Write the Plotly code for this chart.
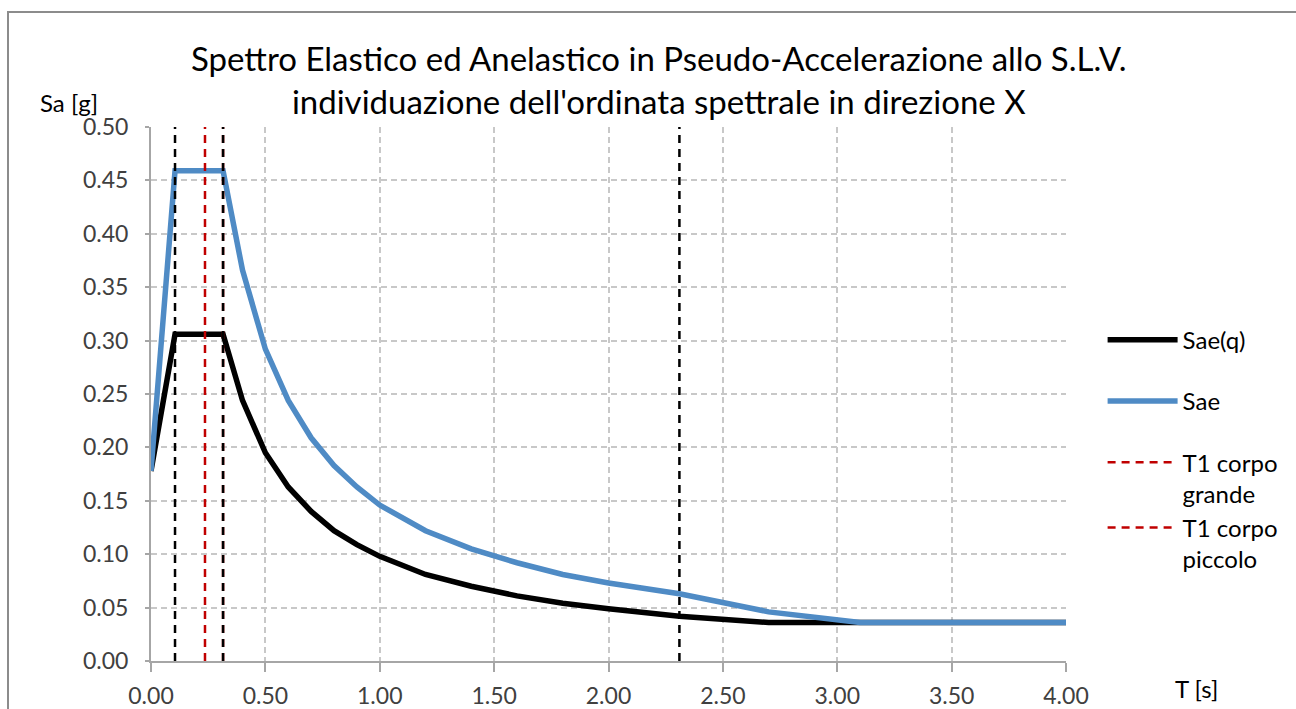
import plotly.graph_objects as go

# Period samples [s] and spectral ordinates [g]
T = [0.0, 0.105, 0.315, 0.4, 0.5, 0.6, 0.7, 0.8, 0.9, 1.0, 1.2, 1.4, 1.6, 1.8,
     2.0, 2.2, 2.31, 2.7, 3.1, 3.5, 4.0]
sae = [0.178, 0.459, 0.459, 0.366, 0.292, 0.244, 0.209, 0.183, 0.163, 0.146,
       0.122, 0.105, 0.092, 0.081, 0.073, 0.067, 0.063, 0.046, 0.036, 0.036, 0.036]
sae_q = [0.178, 0.306, 0.306, 0.244, 0.195, 0.163, 0.140, 0.122, 0.109, 0.098,
         0.081, 0.070, 0.061, 0.054, 0.049, 0.044, 0.042, 0.036, 0.036, 0.036, 0.036]

# Corner periods TB, TC, TD
corner_periods = [0.105, 0.315, 2.31]
# Fundamental periods of the two building bodies
t1_grande = 0.236
t1_piccolo = 0.315

y_top = 0.5
FONT = "Lato"
DASH = "8px,6px"

fig = go.Figure()

fig.add_trace(go.Scatter(x=T, y=sae_q, mode="lines", name="Sae(q)", legendgroup="a",
                         line=dict(color="black", width=5.5)))
fig.add_trace(go.Scatter(x=T, y=sae, mode="lines", name="Sae", legendgroup="b",
                         line=dict(color="#4F8BC5", width=5.5)))
fig.add_trace(go.Scatter(x=[t1_grande, t1_grande], y=[0, y_top], mode="lines",
                         name="T1 corpo<br>grande", legendgroup="c",
                         line=dict(color="#C00000", width=2.5, dash=DASH)))
fig.add_trace(go.Scatter(x=[t1_piccolo, t1_piccolo], y=[0, y_top], mode="lines",
                         name="T1 corpo<br>piccolo", legendgroup="c",
                         line=dict(color="#C00000", width=2.5, dash=DASH)))
for tc in corner_periods:
    fig.add_trace(go.Scatter(x=[tc, tc], y=[0, y_top], mode="lines", showlegend=False,
                             line=dict(color="black", width=2.5, dash=DASH)))

grid = dict(showgrid=True, gridcolor="#C8C8C8", griddash="6px,4px", gridwidth=1.5,
            zeroline=False, showline=True, linecolor="#A6A6A6", linewidth=2,
            automargin=False,
            tickfont=dict(family=FONT, size=23, color="#404040"))

fig.update_xaxes(range=[0, 4], tick0=0, dtick=0.5, tickformat=".2f",
                 ticks="outside", ticklen=9, tickcolor="#A6A6A6", tickwidth=1.5,
                 ticklabelstandoff=4, **grid)
fig.update_yaxes(range=[0, 0.5], tick0=0, dtick=0.05, tickformat=".2f",
                 ticks="outside", ticklen=4, tickcolor="#A6A6A6", tickwidth=1.5,
                 ticklabelstandoff=12, **grid)

fig.update_layout(
    width=1296, height=709,
    margin=dict(l=151, r=230, t=127, b=48),
    plot_bgcolor="white", paper_bgcolor="white",
    font=dict(family=FONT, color="black"),
    legend=dict(x=1.04, xanchor="left", y=0.643, yanchor="top", valign="top",
                font=dict(family=FONT, size=24, color="black"),
                itemwidth=70, tracegroupgap=27, bgcolor="rgba(0,0,0,0)"),
    annotations=[
        dict(text="Spettro Elastico ed Anelastico in Pseudo-Accelerazione allo S.L.V.<br>"
                  "individuazione dell'ordinata spettrale in direzione X",
             xref="paper", yref="paper", x=(659 - 151) / 915, y=(661 - 80) / 534,
             xanchor="center", yanchor="middle", showarrow=False,
             font=dict(family=FONT, size=33, color="black")),
        dict(text="Sa [g]", xref="paper", yref="paper", x=-0.124, y=(661 - 103) / 534,
             xanchor="left", yanchor="middle", showarrow=False,
             font=dict(family=FONT, size=24, color="black")),
        dict(text="T [s]", xref="paper", yref="paper", x=1.117, y=(661 - 688) / 534,
             xanchor="left", yanchor="middle", showarrow=False,
             font=dict(family=FONT, size=24, color="black")),
    ],
    shapes=[
        dict(type="rect", xref="paper", yref="paper",
             x0=(8 - 151) / 915, x1=(1320 - 151) / 915,
             y0=(661 - 730) / 534, y1=(661 - 12) / 534,
             line=dict(color="#8C8C8C", width=2), layer="below"),
    ],
)

fig.write_html("out.html")
